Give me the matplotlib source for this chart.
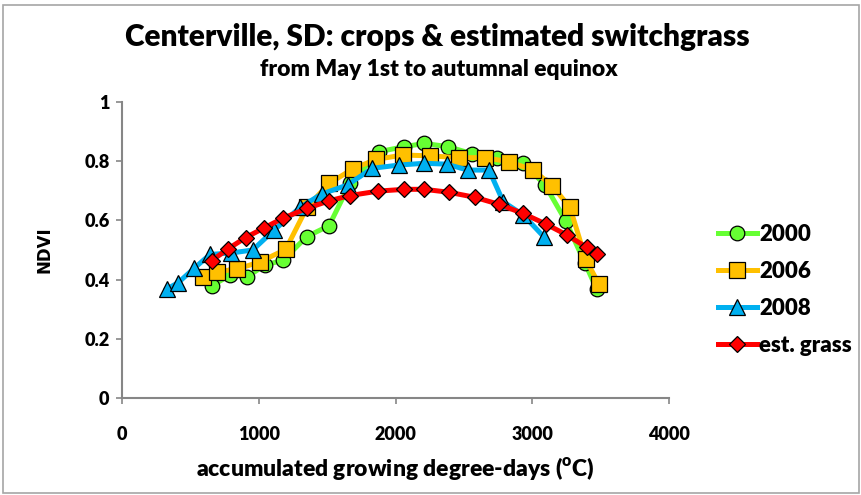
import matplotlib
matplotlib.use("Agg")
import matplotlib.pyplot as plt
from matplotlib.patches import Rectangle

# accumulated GDD (x) and NDVI (y)
gdd_2000 = [656, 790, 916, 1046, 1180, 1350, 1514, 1667, 1878, 2062, 2211, 2386,
            2560, 2740, 2935, 3093, 3245, 3386, 3471]
ndvi_2000 = [0.378, 0.416, 0.41, 0.449, 0.466, 0.545, 0.582, 0.725, 0.832, 0.849,
             0.86, 0.849, 0.825, 0.81, 0.793, 0.72, 0.598, 0.455, 0.368]

gdd_2006 = [595, 692, 839, 1009, 1197, 1355, 1516, 1687, 1857, 2055, 2252, 2467,
            2654, 2830, 3008, 3147, 3276, 3391, 3488]
ndvi_2006 = [0.41, 0.427, 0.435, 0.46, 0.502, 0.646, 0.725, 0.774, 0.806, 0.821,
             0.818, 0.812, 0.812, 0.798, 0.77, 0.716, 0.644, 0.469, 0.384]

gdd_2008 = [327, 412, 527, 644, 800, 956, 1114, 1305, 1460, 1650, 1830, 2026,
            2211, 2374, 2528, 2684, 2788, 2935, 3088]
ndvi_2008 = [0.368, 0.39, 0.438, 0.485, 0.49, 0.50, 0.568, 0.645, 0.689, 0.72,
             0.776, 0.787, 0.793, 0.79, 0.77, 0.77, 0.663, 0.618, 0.543]

gdd_grass = [656, 773, 904, 1041, 1175, 1355, 1514, 1667, 1874, 2064, 2211, 2391,
             2581, 2759, 2930, 3098, 3252, 3398, 3471]
ndvi_grass = [0.464, 0.503, 0.542, 0.575, 0.607, 0.641, 0.666, 0.684, 0.699, 0.705,
              0.705, 0.695, 0.678, 0.654, 0.624, 0.588, 0.551, 0.509, 0.486]

plt.rcParams["font.family"] = ["Lato", "DejaVu Sans"]
plt.rcParams["font.weight"] = "bold"

fig = plt.figure(figsize=(8.61, 4.95), dpi=100)
ax = fig.add_axes([122 / 861, 97 / 495, 547 / 861, 296 / 495])

series = [
    (gdd_2000, ndvi_2000, "2000", "#66FF33", "o", 10.5),
    (gdd_2006, ndvi_2006, "2006", "#FFC000", "s", 11),
    (gdd_2008, ndvi_2008, "2008", "#00B0F0", "^", 11),
    (gdd_grass, ndvi_grass, "est. grass", "#FF0000", "D", 8.5),
]
for x, y, label, color, marker, ms in series:
    ax.plot(x, y, color=color, lw=3.6, marker=marker, ms=ms,
            mfc=color, mec="black", mew=0.9, label=label)

ax.set_xlim(0, 4000)
ax.set_ylim(0, 1)
ax.set_xticks([0, 1000, 2000, 3000, 4000])
ax.set_yticks([0, 0.2, 0.4, 0.6, 0.8, 1])
ax.set_yticklabels(["0", "0.2", "0.4", "0.6", "0.8", "1"])

for side in ["top", "right"]:
    ax.spines[side].set_visible(False)
for side in ["left", "bottom"]:
    ax.spines[side].set_color("#868686")
    ax.spines[side].set_linewidth(1.5)
ax.tick_params(direction="out", length=4, width=1.2, color="#868686",
               labelsize=13)
ax.tick_params(axis="x", pad=16)
ax.tick_params(axis="y", pad=5)
for t in ax.get_xticklabels() + ax.get_yticklabels():
    t.set_fontweight("heavy")

ax.set_ylabel("NDVI", fontsize=12, fontweight="bold", family="DejaVu Sans", labelpad=22)
ax.set_xlabel("accumulated growing degree-days ($^\\mathregular{o}$C)",
              fontsize=16.5, fontweight="heavy", labelpad=9)

fig.text(0.508, 0.925, "Centerville, SD: crops & estimated switchgrass",
         ha="center", va="center", fontsize=21.5, fontweight="heavy")
fig.text(0.51, 0.86, "from May 1st to autumnal equinox",
         ha="center", va="center", fontsize=16.5, fontweight="heavy")

fig.legend(loc="center left", bbox_to_anchor=(698 / 861, 1 - 290 / 495),
           frameon=False, handlelength=1.75, labelspacing=0.72,
           handletextpad=0.1, prop={"weight": "heavy", "size": 16})

fig.add_artist(Rectangle((0.004, 0.004), 0.994, 0.985, transform=fig.transFigure,
                         fill=False, edgecolor="#A6A6A6", lw=1.2))

fig.savefig("out.png", dpi=100)
